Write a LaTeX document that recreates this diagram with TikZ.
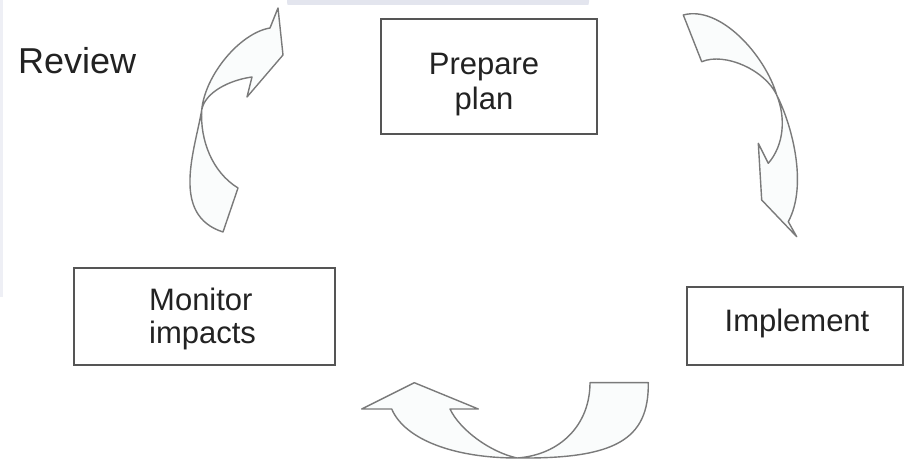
\documentclass[tikz,border=0pt]{standalone}
\usepackage{fontspec}
\setmainfont{Liberation Sans}
\definecolor{boxline}{HTML}{555555}
\definecolor{arrline}{HTML}{7A7A7A}
\definecolor{arrfill}{HTML}{FAFCFC}
\definecolor{txtcol}{HTML}{222222}
\definecolor{scanband}{HTML}{E3E5EE}
\tikzset{
  stagebox/.style={draw=boxline, line width=1.8pt, rectangle, inner sep=0pt, fill=white},
  stagetext/.style={text=txtcol, font=\fontsize{31}{35}\selectfont, inner sep=0pt, align=center},
  cyclearrow/.style={draw=arrline, line width=1.4pt, fill=arrfill, line join=round},
}
\begin{document}
\begin{tikzpicture}[x=1pt,y=-1pt]
\useasboundingbox (0,0) rectangle (914,462);
% faint scan bands
\fill[scanband] (287,0) -- (589,0) -- (589,2) .. controls (589,5) .. (585,5) -- (291,5) .. controls (287,5) .. (287,2) -- cycle;
\fill[scanband!60] (0,0) rectangle (2.5,297);

% left (review) arrow
\draw[cyclearrow] (270,28) -- (278,8) -- (283,55) -- (247,97) -- (252,77)
  .. controls (230,80) and (205,92) .. (201.7,110)
  .. controls (200,140) and (212,172) .. (238,188) -- (223,232)
  .. controls (170,215) and (195,150) .. (201.7,110)
  .. controls (205,75) and (240,33) .. cycle;

% right arrow
\draw[cyclearrow] (683.3,15) .. controls (720,5) and (765,55) .. (776.7,95)
  .. controls (792,125) and (808,185) .. (788.3,221.7) -- (796.7,236.7)
  -- (761.7,200) -- (758.3,143.3) -- (768.3,163.3)
  .. controls (784,145) and (786,118) .. (776.7,95)
  .. controls (765,70) and (725,52) .. (701.7,61.7) -- cycle;

% bottom arrow
\draw[cyclearrow] (648.3,382.7) -- (590,382.7)
  .. controls (590,425) and (560,455) .. (517,458)
  .. controls (490,452) and (460,430) .. (450,409)
  -- (478.3,409) -- (414.3,382.7) -- (361.7,409) -- (391.7,409)
  .. controls (405,440) and (455,458) .. (517,458)
  .. controls (615,459) and (649,440) .. cycle;

% boxes
\node[stagebox, minimum width=216pt, minimum height=115pt] (prep) at (489,76.5) {};
\node[stagebox, minimum width=261pt, minimum height=97pt] (mon) at (204.5,316.5) {};
\node[stagebox, minimum width=216pt, minimum height=78pt] (impl) at (795,326) {};

% texts
\node[stagetext] (preptxt) at (484,84.5) {Prepare\\plan};
\node[stagetext, align=left, anchor=west, font=\fontsize{31}{33}\selectfont] (montxt) at (149,319) {Monitor\\impacts};
\node[stagetext] (impltxt) at (797,323) {Implement};
\node[text=txtcol, font=\fontsize{36}{40}\selectfont, inner sep=0pt, anchor=base west] (review) at (18,74) {Review};
\end{tikzpicture}
\end{document}
